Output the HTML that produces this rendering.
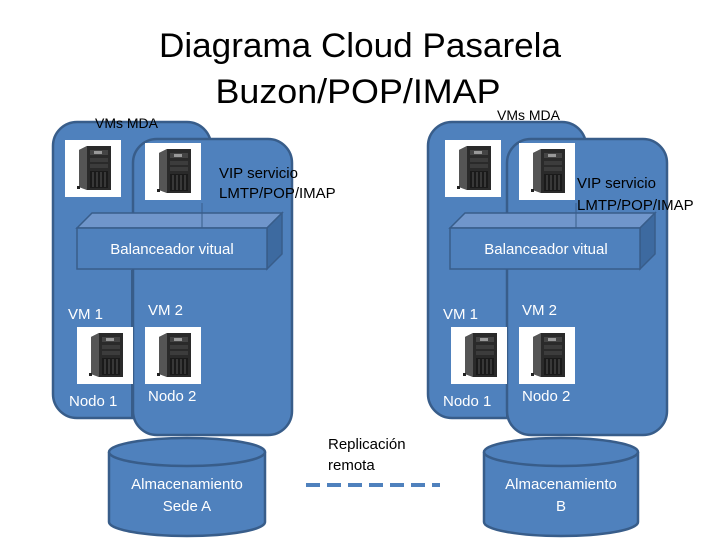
<!DOCTYPE html>
<html><head><meta charset="utf-8"><style>
html,body{margin:0;padding:0;background:#fff;}
svg{display:block;font-family:"Liberation Sans",sans-serif;}
</style></head><body>
<svg width="720" height="540" viewBox="0 0 720 540" xmlns="http://www.w3.org/2000/svg">
<defs>
<g id="srv">
  <rect x="0" y="0" width="56" height="57" fill="#fff"/>
  <polygon points="14,10 22,6 46,6 46,50 22,50 14,47" fill="#2a2a2a"/>
  <polygon points="14,10 22,6 22,50 14,47" fill="#555"/>
  <rect x="25" y="10" width="18" height="5" fill="#444"/>
  <rect x="29" y="11" width="8" height="3" fill="#999"/>
  <rect x="25" y="18" width="18" height="4" fill="#3c3c3c"/>
  <rect x="25" y="24" width="18" height="4" fill="#3c3c3c"/>
  <rect x="25" y="31" width="18" height="17" fill="#1a1a1a"/>
  <line x1="28" y1="32" x2="28" y2="47" stroke="#555"/>
  <line x1="32" y1="32" x2="32" y2="47" stroke="#555"/>
  <line x1="36" y1="32" x2="36" y2="47" stroke="#555"/>
  <line x1="40" y1="32" x2="40" y2="47" stroke="#555"/>
  <rect x="12" y="46" width="3" height="3" fill="#222"/>
</g>
</defs>
<g fill="#4f81bd" stroke="#385d8a" stroke-width="2.5">
  <rect x="53" y="122" width="158" height="296" rx="24"/>
  <rect x="133" y="139" width="159" height="296" rx="24"/>
  <rect x="428" y="122" width="158" height="296" rx="24"/>
  <rect x="507" y="139" width="160" height="296" rx="24"/>
</g>
<line x1="132" y1="270" x2="132" y2="418" stroke="#385d8a" stroke-width="2"/>
<line x1="507" y1="270" x2="507" y2="418" stroke="#385d8a" stroke-width="2"/>
<g stroke="#385d8a" stroke-width="1.5">
  <polygon points="77,228 92,213 282,213 267,228" fill="#7096cb"/>
  <polygon points="267,228 282,213 282,254 267,269" fill="#3d6aa0"/>
  <rect x="77" y="228" width="190" height="41" fill="#4f81bd"/>
  <polygon points="450,228 465,213 655,213 640,228" fill="#7096cb"/>
  <polygon points="640,228 655,213 655,254 640,269" fill="#3d6aa0"/>
  <rect x="450" y="228" width="190" height="41" fill="#4f81bd"/>
</g>
<line x1="202" y1="203" x2="202" y2="228" stroke="#385d8a" stroke-width="1"/>
<line x1="576" y1="203" x2="576" y2="228" stroke="#385d8a" stroke-width="1"/>
<use href="#srv" x="65" y="140"/>
<use href="#srv" x="145" y="143"/>
<use href="#srv" x="77" y="327"/>
<use href="#srv" x="145" y="327"/>
<use href="#srv" x="445" y="140"/>
<use href="#srv" x="519" y="143"/>
<use href="#srv" x="451" y="327"/>
<use href="#srv" x="519" y="327"/>
<g fill="#4f81bd" stroke="#385d8a" stroke-width="2.5">
  <path d="M109,452 L109,522 A78,14 0 0 0 265,522 L265,452"/>
  <ellipse cx="187" cy="452" rx="78" ry="14"/>
  <path d="M484,452 L484,522 A77,14 0 0 0 638,522 L638,452"/>
  <ellipse cx="561" cy="452" rx="77" ry="14"/>
</g>
<line x1="306" y1="485" x2="440" y2="485" stroke="#4f81bd" stroke-width="4" stroke-dasharray="14,7"/>
<g fill="#000">
  <text x="360" y="57" font-size="34" text-anchor="middle" textLength="402" lengthAdjust="spacingAndGlyphs">Diagrama Cloud Pasarela</text>
  <text x="358" y="103" font-size="34" text-anchor="middle" textLength="285" lengthAdjust="spacingAndGlyphs">Buzon/POP/IMAP</text>
  <text x="95" y="128" font-size="14">VMs MDA</text>
  <text x="497" y="120" font-size="14">VMs MDA</text>
  <text x="219" y="178" font-size="15">VIP servicio</text>
  <text x="219" y="198" font-size="15">LMTP/POP/IMAP</text>
  <text x="577" y="188" font-size="15">VIP servicio</text>
  <text x="577" y="210" font-size="15">LMTP/POP/IMAP</text>
  <text x="328" y="449" font-size="15">Replicación</text>
  <text x="328" y="470" font-size="15">remota</text>
</g>
<g fill="#fff" font-size="15">
  <text x="172" y="254" text-anchor="middle">Balanceador  vitual</text>
  <text x="546" y="254" text-anchor="middle">Balanceador  vitual</text>
  <text x="68" y="319">VM 1</text>
  <text x="148" y="315">VM 2</text>
  <text x="69" y="406">Nodo 1</text>
  <text x="148" y="401">Nodo 2</text>
  <text x="443" y="319">VM 1</text>
  <text x="522" y="315">VM 2</text>
  <text x="443" y="406">Nodo 1</text>
  <text x="522" y="401">Nodo 2</text>
  <text x="187" y="489" text-anchor="middle">Almacenamiento</text>
  <text x="187" y="511" text-anchor="middle">Sede A</text>
  <text x="561" y="489" text-anchor="middle">Almacenamiento</text>
  <text x="561" y="511" text-anchor="middle">B</text>
</g>
</svg>
</body></html>
